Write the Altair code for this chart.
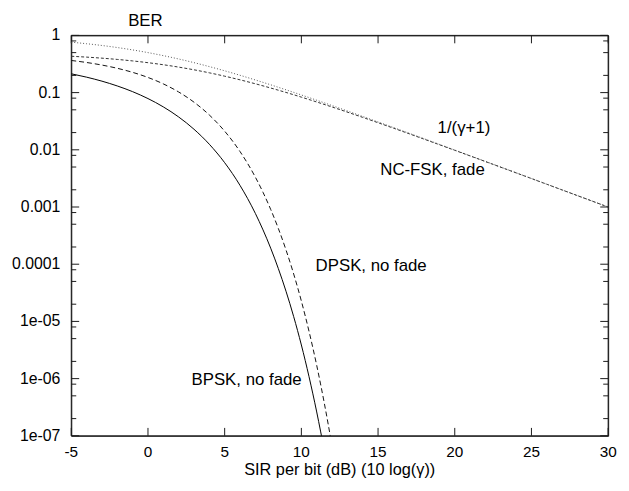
import altair as alt
import pandas as pd

# ---- data ----
x_nofade = [-5, -4, -3, -2, -1, 0, 1, 2, 3, 4, 5, 6, 7, 7.5, 8, 8.5, 9, 9.5, 10,
            10.5, 11, 11.25, 11.5, 11.75, 12]
ber_bpsk = [0.2132, 0.1861, 0.1584, 0.1306, 0.1038, 0.07865, 0.05628, 0.03751,
            0.02288, 0.01250, 0.005954, 0.002388, 0.000773, 0.000398, 0.0001909,
            8.37e-5, 3.363e-5, 1.21e-5, 3.872e-6, 1.08e-6, 2.613e-7, 1.21e-7,
            5.4e-8, 2.24e-8, 9.2e-9]
ber_dpsk = [0.3645, 0.3358, 0.3029, 0.2660, 0.2259, 0.1839, 0.1420, 0.1025,
            0.06798, 0.04057, 0.02116, 0.009332, 0.003329, 0.001805, 0.000909,
            0.000421, 0.0001773, 6.73e-5, 2.270e-5, 6.70e-6, 1.705e-6, 8.08e-7,
            3.669e-7, 1.589e-7, 6.54e-8]

x_fade = [-5, -4, -3, -2, -1, 0, 1, 2, 3, 4, 5, 6, 7, 8, 9, 10, 12, 14, 16, 18,
          20, 25, 30]
ber_ncfsk = [0.4317, 0.4170, 0.3998, 0.3801, 0.3579, 0.3333, 0.3069, 0.2789,
             0.2503, 0.2216, 0.1937, 0.1672, 0.1426, 0.1203, 0.1006, 0.08333,
             0.05603, 0.03687, 0.02392, 0.01536, 0.009804, 0.003142, 0.000998]
ber_inv = [0.7597, 0.7152, 0.6661, 0.6131, 0.5573, 0.5, 0.4427, 0.3869, 0.3339,
           0.2847, 0.2403, 0.2008, 0.1663, 0.1368, 0.1118, 0.0909, 0.05935,
           0.03829, 0.02450, 0.01560, 0.009901, 0.003152, 0.000999]

x_major = [-5, 0, 5, 10, 15, 20, 25, 30]
x_labels = ["-5", "0", "5", "10", "15", "20", "25", "30"]
y_major = [1, 0.1, 0.01, 0.001, 0.0001, 1e-05, 1e-06, 1e-07]
y_labels = ["1", "0.1", "0.01", "0.001", "0.0001", "1e-05", "1e-06", "1e-07"]
y_minor = [0.8, 0.5, 0.2, 0.08, 0.05, 0.02, 0.008, 0.005, 0.002,
           0.0008, 0.0005, 0.0002, 8e-05, 5e-05, 2e-05, 8e-06, 5e-06, 2e-06,
           8e-07, 5e-07, 2e-07]

label_text = ["1/(\u03b3+1)", "NC-FSK, fade", "DPSK, no fade", "BPSK, no fade"]
label_x = [20.6, 18.55, 14.55, 6.43]
label_y = [0.0236, 0.00434, 9.1e-5, 9.4e-7]

x_title = "SIR per bit (dB) (10 log(\u03b3))"
y_title = "BER"

X_DOM = [-5, 30]
Y_DOM = [1e-07, 1]

# ---- chart ----
W, H = 543, 405
FONT = "Liberation Sans"
FRAME = "#1a1a1a"
MAJ, MIN = 8, 5          # tick lengths in pixels
FS = 16

xs = alt.Scale(domain=X_DOM, nice=False, zero=False)
ys = alt.Scale(type="log", domain=Y_DOM, nice=False)

X = lambda f: alt.X(f, scale=xs, axis=None)
Y = lambda f: alt.Y(f, scale=ys, axis=None)

x_per_px = (X_DOM[1] - X_DOM[0]) / W
dec_per_px = 7.0 / H


def line(xv, yv, color, dash=None):
    df = pd.DataFrame({"x": xv, "y": yv})
    kw = dict(color=color, strokeWidth=1, clip=True, interpolate="monotone")
    if dash is not None:
        kw["strokeDash"] = dash
    return alt.Chart(df).mark_line(**kw).encode(x=X("x:Q"), y=Y("y:Q"))


# frame and inward ticks, built from the tick arrays
rows = []
k = 0
fx = [X_DOM[0], X_DOM[1], X_DOM[1], X_DOM[0], X_DOM[0]]
fy = [Y_DOM[0], Y_DOM[0], Y_DOM[1], Y_DOM[1], Y_DOM[0]]
for i, (a, b) in enumerate(zip(fx, fy)):
    rows.append({"id": "frame", "i": i, "x": a, "y": b})
for v in x_major:
    for y0, sgn in ((Y_DOM[0], 1), (Y_DOM[1], -1)):
        rows.append({"id": f"t{k}", "i": 0, "x": v, "y": y0})
        rows.append({"id": f"t{k}", "i": 1, "x": v,
                     "y": y0 * 10 ** (sgn * MAJ * dec_per_px)})
        k += 1
for vals, size in ((y_major, MAJ), (y_minor, MIN)):
    for v in vals:
        for x0, sgn in ((X_DOM[0], 1), (X_DOM[1], -1)):
            rows.append({"id": f"t{k}", "i": 0, "x": x0, "y": v})
            rows.append({"id": f"t{k}", "i": 1,
                         "x": x0 + sgn * size * x_per_px, "y": v})
            k += 1
deco = alt.Chart(pd.DataFrame(rows)).mark_line(
    color=FRAME, strokeWidth=1, clip=False
).encode(x=X("x:Q"), y=Y("y:Q"), detail="id:N", order="i:Q")

bpsk = line(x_nofade, ber_bpsk, "#000000")
dpsk = line(x_nofade, ber_dpsk, "#111111", dash=[5, 3])
ncfsk = line(x_fade, ber_ncfsk, "#333333", dash=[3, 2])
inv = line(x_fade, ber_inv, "#555555", dash=[1, 2])

labels_df = pd.DataFrame({"x": label_x, "y": label_y, "t": label_text})
labels = alt.Chart(labels_df).mark_text(
    font=FONT, fontSize=17, color="black", align="center", baseline="middle"
).encode(x=X("x:Q"), y=Y("y:Q"), text="t:N")

xlab = alt.Chart(pd.DataFrame({"v": x_major, "t": x_labels})).mark_text(
    font=FONT, fontSize=15.5, color="black", align="center", baseline="top"
).encode(x=X("v:Q"), y=alt.value(H + 9), text="t:N")
ylab = alt.Chart(pd.DataFrame({"v": y_major, "t": y_labels})).mark_text(
    font=FONT, fontSize=FS, color="black", align="right", baseline="middle"
).encode(y=Y("v:Q"), x=alt.value(-11), text="t:N")

xtitle = alt.Chart(pd.DataFrame({"t": [x_title]})).mark_text(
    font=FONT, fontSize=16.5, color="black", align="center",
    baseline="alphabetic"
).encode(x=alt.value(W / 2), y=alt.value(H + 40), text="t:N")
ytitle = alt.Chart(pd.DataFrame({"t": [y_title]})).mark_text(
    font=FONT, fontSize=17, color="black", align="center",
    baseline="alphabetic"
).encode(x=alt.value(75), y=alt.value(-10), text="t:N")

chart = alt.layer(deco, bpsk, dpsk, ncfsk, inv, labels, xlab, ylab,
                  xtitle, ytitle).properties(
    width=W, height=H,
    padding={"left": 4, "top": 1, "right": 4, "bottom": 0},
    autosize=alt.AutoSizeParams(type="pad"),
    background="white",
).configure(font=FONT).configure_view(stroke=FRAME, strokeWidth=1)

chart.save("out.html", embed_options={"renderer": "svg", "actions": False})
